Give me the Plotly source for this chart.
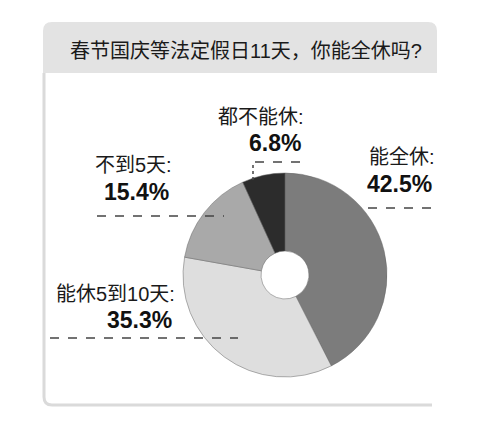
import plotly.graph_objects as go

W, H = 504, 447

title_text = "春节国庆等法定假日11天，你能全休吗?"
categories = ["能全休", "能休5到10天", "不到5天", "都不能休"]
shares = [42.5, 35.3, 15.4, 6.8]
slice_colors = ["#7c7c7c", "#dedede", "#a9a9a9", "#2c2c2c"]

# label placement in pixels: right edge, name y, value y, dashed line (x0, x1, y)
label_pos = {
    "能全休": (437, 157, 184, (368, 434, 208)),
    "能休5到10天": (177, 294, 320, (50, 238, 338)),
    "不到5天": (174, 165, 192, (97, 224, 216)),
    "都不能休": (306, 117, 143, (255, 302, 162)),
}


def px(x):
    return x / W


def py(y):
    return 1 - y / H


cx, cy, r = 285, 275, 102

fig = go.Figure(go.Pie(
    labels=categories,
    values=shares,
    sort=False,
    direction="clockwise",
    rotation=0,
    hole=0.235,
    marker=dict(colors=slice_colors, line=dict(color="#666666", width=0.5)),
    textinfo="none",
    hoverinfo="label+percent",
    showlegend=False,
    domain=dict(x=[px(cx - r), px(cx + r)], y=[py(cy + r), py(cy - r)]),
))

shapes = []
# title box
x0, x1, y0, y1, rr = 43, 437, 22, 73, 9
shapes.append(dict(
    type="path", xref="paper", yref="paper",
    path=(f"M {px(x0 + rr)} {py(y0)} L {px(x1 - rr)} {py(y0)} "
          f"Q {px(x1)} {py(y0)} {px(x1)} {py(y0 + rr)} L {px(x1)} {py(y1)} "
          f"L {px(x0)} {py(y1)} L {px(x0)} {py(y0 + rr)} "
          f"Q {px(x0)} {py(y0)} {px(x0 + rr)} {py(y0)} Z"),
    fillcolor="#e3e3e3", line=dict(width=0), layer="below",
))
# frame: left and bottom rule
shapes.append(dict(
    type="path", xref="paper", yref="paper",
    path=(f"M {px(44)} {py(73)} L {px(44)} {py(397)} "
          f"Q {px(44)} {py(405)} {px(52)} {py(405)} L {px(432)} {py(405)}"),
    line=dict(color="#dadada", width=3), layer="below",
))

annotations = [dict(
    text=title_text, x=px(246), y=py(51), xref="paper", yref="paper",
    showarrow=False, xanchor="center", yanchor="middle",
    font=dict(size=20, color="#1a1a1a", family="Liberation Sans, Noto Sans CJK SC"),
)]

for name, val in zip(categories, shares):
    right, ny, vy, (lx0, lx1, ly) = label_pos[name]
    annotations.append(dict(
        text=name + ":", x=px(right), y=py(ny), xref="paper", yref="paper",
        showarrow=False, xanchor="right", yanchor="middle",
        font=dict(size=20, color="#1a1a1a", family="Liberation Sans, Noto Sans CJK SC"),
    ))
    annotations.append(dict(
        text=f"<b>{val}%</b>", x=px(right - 3), y=py(vy), xref="paper", yref="paper",
        showarrow=False, xanchor="right", yanchor="middle",
        font=dict(size=23, color="#111111", family="Liberation Sans, Arial"),
    ))
    shapes.append(dict(
        type="line", xref="paper", yref="paper",
        x0=px(lx0), x1=px(lx1), y0=py(ly), y1=py(ly),
        line=dict(color="#444444", width=1.5, dash="dash"),
    ))

# small tick into the dark slice
shapes.append(dict(
    type="line", xref="paper", yref="paper",
    x0=px(253), x1=px(253), y0=py(165), y1=py(181),
    line=dict(color="#444444", width=1.5, dash="dot"),
))

fig.update_layout(
    width=W, height=H,
    margin=dict(l=0, r=0, t=0, b=0),
    paper_bgcolor="white", plot_bgcolor="white",
    shapes=shapes, annotations=annotations,
)

fig.write_html("out.html", config={"displayModeBar": False},
               post_script="document.body.style.margin='0';")
